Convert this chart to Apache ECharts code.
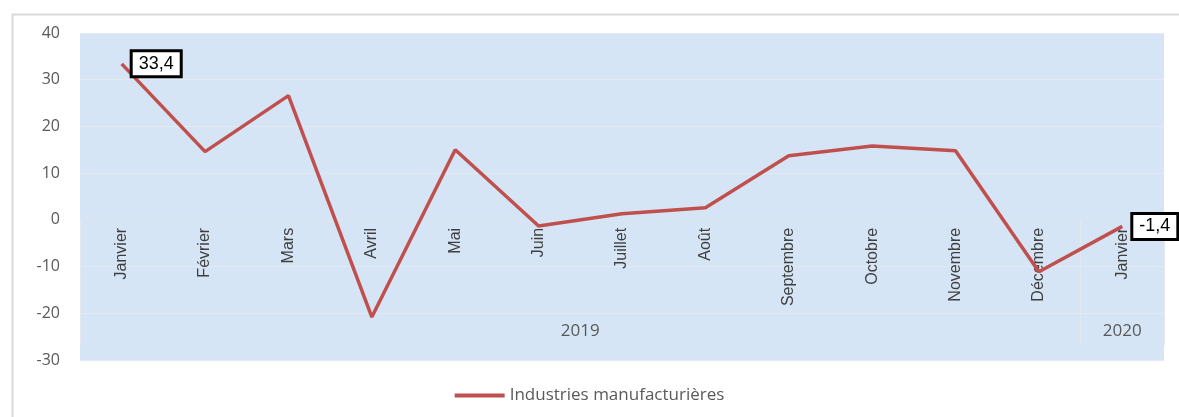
<!DOCTYPE html>
<html>
<head>
<meta charset="utf-8">
<script src="https://cdn.jsdelivr.net/npm/echarts@6/dist/echarts.min.js"></script>
<style>
  html, body { margin: 0; padding: 0; background: #ffffff; }
  #chart { width: 1179px; height: 417px; }
</style>
</head>
<body>
<div id="chart"></div>
<script>
// Monthly change, manufacturing industries
const months = ['Janvier', 'Février', 'Mars', 'Avril', 'Mai', 'Juin', 'Juillet',
  'Août', 'Septembre', 'Octobre', 'Novembre', 'Décembre', 'Janvier'];
const years = ['2019', '2020'];
const yearSpans = [[0, 11], [12, 12]];
const values = [33.4, 14.6, 26.6, -20.8, 15.0, -1.3, 1.3, 2.6, 13.7, 15.8, 14.8, -11.1, -1.4];
const labelled = [0, 12];
const seriesName = 'Industries manufacturières';
const yMin = -30, yMax = 40;

const fmt = v => String(v).replace('.', ',');

const gridTop = 33, gridBottom = 57, chartH = 417;
const plotH = chartH - gridTop - gridBottom;
// Lift the category axis from the bottom edge up to the zero line
const zeroLift = plotH * (0 - yMin) / (yMax - yMin);

const chart = echarts.init(document.getElementById('chart'));

const seriesData = values.map((v, i) => labelled.includes(i) ? {
  value: v,
  label: {
    show: true,
    position: 'right',
    distance: 11,
    formatter: p => fmt(p.value),
    color: '#000',
    fontSize: 18,
    fontFamily: 'Liberation Sans, Arial, sans-serif',
    backgroundColor: '#fff',
    borderColor: '#000',
    borderWidth: 3,
    padding: [3, 6, 2, 6]
  }
} : v);

chart.setOption({
  animation: false,
  graphic: [{
    type: 'rect',
    left: 10, top: 12,
    shape: { width: 1200, height: 420 },
    style: { fill: 'none', stroke: '#d9d9d9', lineWidth: 2 },
    z: -10
  }],
  grid: {
    left: 80, right: 15, top: gridTop, bottom: gridBottom,
    containLabel: false,
    outerBoundsMode: 'none',
    show: true,
    backgroundColor: '#d5e5f5',
    borderWidth: 0
  },
  legend: {
    bottom: 8,
    left: 'center',
    itemWidth: 50,
    itemHeight: 4,
    itemGap: 8,
    icon: 'rect',
    textStyle: { color: '#595959', fontSize: 17, fontFamily: 'Open Sans, Liberation Sans, sans-serif' },
    data: [seriesName]
  },
  xAxis: {
    type: 'category',
    data: months,
    boundaryGap: true,
    offset: -zeroLift,
    axisLine: { show: true, onZero: false, lineStyle: { color: '#dde5ee', width: 1 } },
    axisTick: {
      show: true,
      length: 125,
      interval: (i) => i === 0 || i === 12,
      lineStyle: { color: '#e2e8ef', width: 1 }
    },
    axisLabel: {
      rotate: 90,
      margin: 8,
      interval: 0,
      color: '#3f3f3f',
      fontSize: 16,
      fontFamily: 'Liberation Sans Narrow, Liberation Sans, Arial, sans-serif'
    },
    splitLine: { show: false }
  },
  yAxis: {
    type: 'value',
    min: yMin, max: yMax, interval: 10,
    axisLine: { show: false },
    axisTick: { show: false },
    axisLabel: {
      color: '#595959',
      fontSize: 16,
      margin: 20,
      fontFamily: 'Open Sans, Liberation Sans, sans-serif'
    },
    splitLine: { lineStyle: { color: '#e4eaf1', width: 1 } }
  },
  series: [{
    name: seriesName,
    type: 'line',
    data: seriesData,
    symbol: 'circle',
    symbolSize: 0,
    showSymbol: true,
    lineStyle: { color: '#c0504d', width: 3.5 },
    itemStyle: { color: '#c0504d' },
    z: 5,
    markArea: {
      silent: true,
      itemStyle: { color: 'rgba(0,0,0,0)' },
      label: {
        show: true,
        position: 'insideBottom',
        distance: 20,
        color: '#595959',
        fontSize: 17,
        fontFamily: 'Open Sans, Liberation Sans, sans-serif'
      },
      data: years.map((y, k) => [
        { name: y, xAxis: yearSpans[k][0], yAxis: yMin },
        { xAxis: yearSpans[k][1], yAxis: 0 }
      ])
    }
  }]
});
</script>
</body>
</html>
